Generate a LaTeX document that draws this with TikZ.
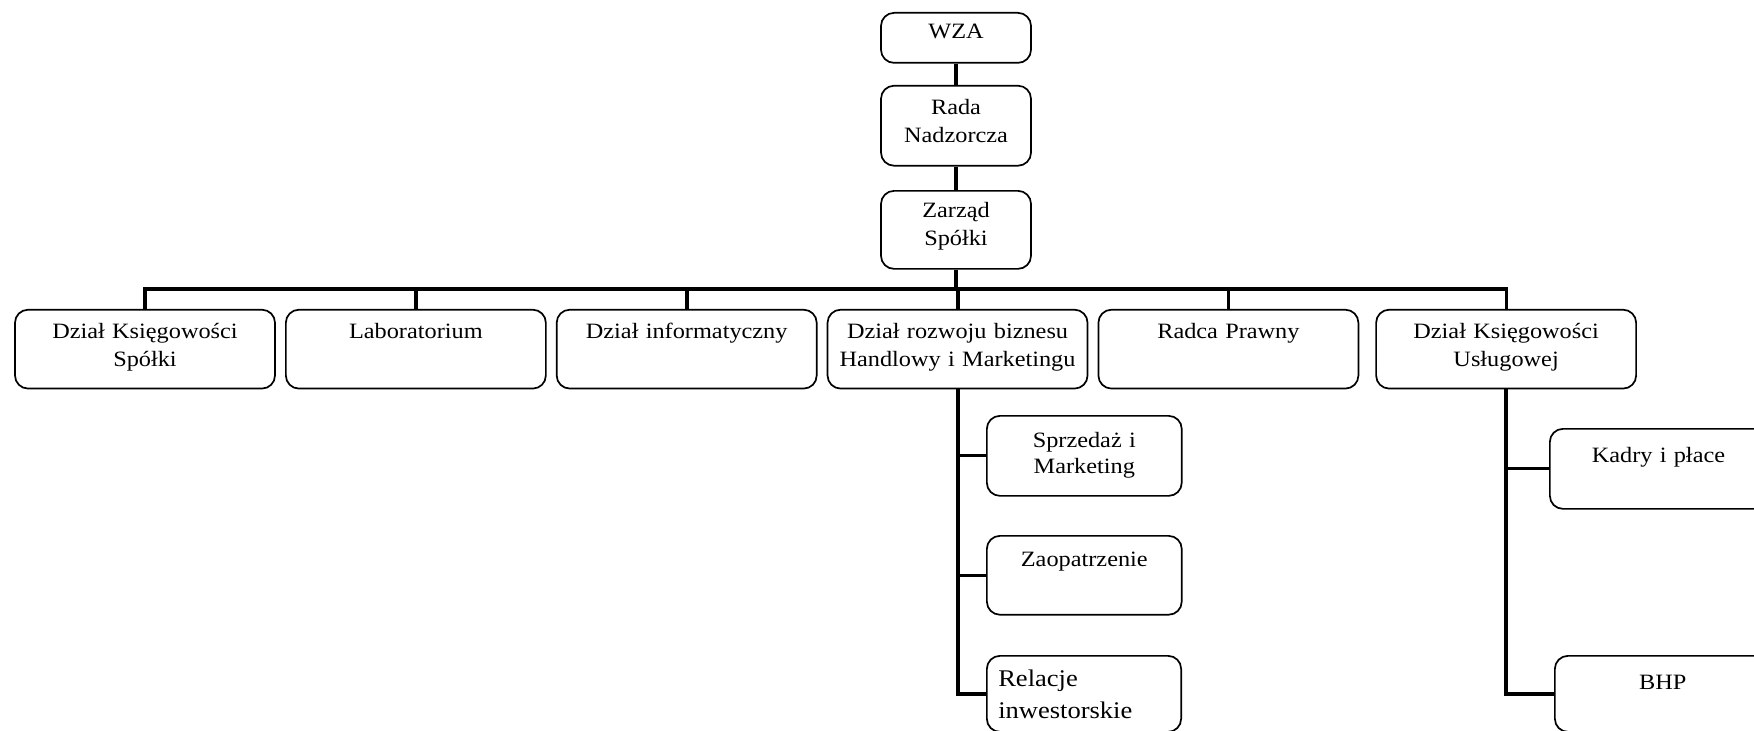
\documentclass[tikz,border=0pt]{standalone}
\usepackage{fontspec}
\setmainfont{Liberation Serif}[FakeStretch=1.11]
\usetikzlibrary{positioning}

\tikzset{
  unit/.style={draw, line width=0.85pt, rounded corners=6.5pt, inner sep=0pt,
    align=center, anchor=north, font=\fontsize{10.9}{13.9}\selectfont},
  dept/.style={unit, text width=4.55cm, text height=0.51cm, text depth=0.87cm},
  board/.style={unit, text width=2.625cm},
  subunit/.style={unit, anchor=north west, text width=3.41cm},
  trunk/.style={line width=2pt},
  branch/.style={line width=1.5pt}
}

\begin{document}
\begin{tikzpicture}
  \useasboundingbox (0,0) rectangle (30.695,12.775);

  % top of the chart
  \node[board, text height=0.455cm, text depth=0.42cm] (wza) at (16.73,12.565) {WZA};
  \node[board, text height=0.51cm, text depth=0.89cm] (rada) at (16.73,11.29) {Rada\\Nadzorcza};
  \node[board, text height=0.47cm, text depth=0.895cm] (zarzad) at (16.73,9.45) {Zarząd\\Spółki};

  % departments
  \node[dept] (ksiegSp) at (2.5375,7.37) {Dział Księgowości\\Spółki};
  \node[dept, right=0.16cm of ksiegSp] (lab) {Laboratorium};
  \node[dept, right=0.16cm of lab] (inf) {Dział informatyczny};
  \node[dept, right=0.16cm of inf] (rozwoj) {Dział rozwoju biznesu\\Handlowy i Marketingu};
  \node[dept, right=0.16cm of rozwoj] (prawny) {Radca Prawny};
  \node[dept, right=0.28cm of prawny] (ksiegUs) {Dział Księgowości\\Usługowej};

  % under Dzial rozwoju
  \node[subunit, text height=0.56cm, text depth=0.84cm,
    font=\fontsize{10.9}{13}\selectfont] (sprzedaz) at (17.255,5.5125) {Sprzedaż i\\Marketing};
  \node[subunit, text height=0.54cm, text depth=0.84cm] (zaopatrz) at (17.255,3.4125) {Zaopatrzenie};
  \node[subunit, text width=3.0cm, inner xsep=0.2cm, align=left, text height=0.54cm,
    text depth=0.79cm, font=\fontsize{11.9}{15.6}\selectfont] (relacje) at (17.255,1.3125) {Relacje\\inwestorskie};

  % under Dzial Ksiegowosci Uslugowej
  \node[subunit, text width=3.8cm, text height=0.595cm, text depth=0.805cm] (kadry) at (27.1075,5.285) {Kadry i płace};
  \node[subunit, text width=3.78cm, text height=0.58cm, text depth=0.75cm] (bhp) at (27.195,1.3125) {BHP};

  % connectors
  \coordinate (bus) at (16.73,7.7175);
  \draw[trunk] (wza) -- (rada);
  \draw[trunk] (rada) -- (zarzad);
  \draw[trunk] (zarzad) -- (zarzad |- bus);
  \draw[trunk] (ksiegSp.north) |- (bus);
  \draw[trunk] (lab.north) -- (lab.north |- bus);
  \draw[trunk] (inf.north) -- (inf.north |- bus);
  \draw[trunk] (rozwoj.north) -- (rozwoj.north |- bus);
  \draw[branch] (bus) -| (ksiegUs.north);
  \draw[branch] (prawny.north) -- (prawny.north |- bus);

  \draw[trunk] (rozwoj.south) |- (relacje.west);
  \draw[branch] (sprzedaz.west) -- (sprzedaz.west -| rozwoj.south);
  \draw[branch] (zaopatrz.west) -- (zaopatrz.west -| rozwoj.south);

  \draw[trunk] (ksiegUs.south) |- (bhp.west);
  \draw[branch] (kadry.west) -- (kadry.west -| ksiegUs.south);
\end{tikzpicture}
\end{document}
